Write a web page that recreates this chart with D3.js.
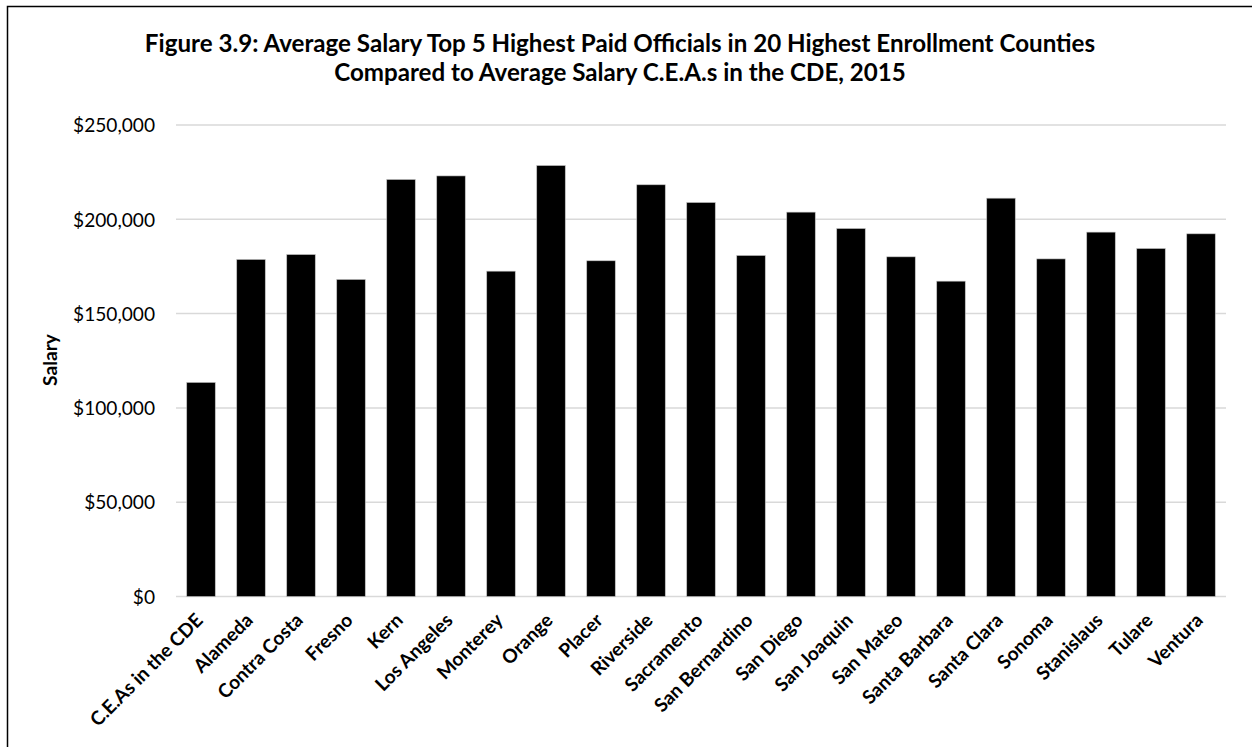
<!DOCTYPE html>
<html>
<head>
<meta charset="utf-8">
<script src="https://cdn.jsdelivr.net/npm/d3@7/dist/d3.min.js"></script>
<style>
  html, body { margin: 0; padding: 0; background: #fff; }
  svg { display: block; }
  text { font-family: "Lato", "Open Sans", "Liberation Sans", sans-serif; fill: #000; }
</style>
</head>
<body>
<svg id="chart" width="1252" height="747"></svg>
<script>
const categories = ["C.E.As in the CDE", "Alameda", "Contra Costa", "Fresno", "Kern", "Los Angeles",
  "Monterey", "Orange", "Placer", "Riverside", "Sacramento", "San Bernardino", "San Diego",
  "San Joaquin", "San Mateo", "Santa Barbara", "Santa Clara", "Sonoma", "Stanislaus", "Tulare", "Ventura"];
const salaries = [113500, 178700, 181300, 168100, 221100, 223000, 172500, 228500, 178000, 218300,
  208900, 180800, 203800, 195100, 180100, 167200, 211200, 179000, 193200, 184500, 192300];
const yTicks = [0, 50000, 100000, 150000, 200000, 250000];
const titleLines = ["Figure 3.9: Average Salary Top 5 Highest Paid Officials in 20 Highest Enrollment Counties",
  "Compared to Average Salary C.E.A.s in the CDE, 2015"];
const yAxisTitle = "Salary";

const svg = d3.select("#chart");
const W = 1252, H = 747;
const plot = { left: 176, right: 1226, top: 125, bottom: 596.5 };

// fit a selection's font size so that a reference node has the target length
function fit(sel, node, target, base) {
  sel.style("font-size", base + "px");
  const w = node.getComputedTextLength();
  sel.style("font-size", (base * target / w) + "px");
}

// outer frame (left and top edges visible)
svg.append("rect").attr("x", 7.5).attr("y", 6.5).attr("width", W + 10).attr("height", H + 10)
  .attr("fill", "none").attr("stroke", "#000").attr("stroke-width", 1.5);

const x = d3.scaleBand().domain(categories).range([plot.left, plot.right])
  .paddingInner(0.43).paddingOuter(0.215);
const y = d3.scaleLinear().domain([0, 250000]).range([plot.bottom, plot.top]);

// gridlines
svg.append("g").selectAll("line").data(yTicks).join("line")
  .attr("x1", plot.left).attr("x2", plot.right)
  .attr("y1", d => y(d)).attr("y2", d => y(d))
  .attr("stroke", "#d9d9d9").attr("stroke-width", 1.5);

// y axis labels
const fmt = d => "$" + d3.format(",")(d);
const yAxis = d3.axisLeft(y).tickValues(yTicks).tickFormat(fmt).tickSize(0).tickPadding(0);
const yg = svg.append("g").attr("transform", `translate(155,0)`).call(yAxis);
yg.select(".domain").remove();
const yTxt = yg.selectAll("text").style("font-family", "Lato, 'Open Sans', sans-serif")
  .attr("fill", "#000").attr("dy", "0.35em");
fit(yTxt, yTxt.filter(d => d === 250000).node(), 82, 15);

// bars
svg.append("g").selectAll("rect").data(salaries).join("rect")
  .attr("x", (d, i) => x(categories[i]))
  .attr("y", d => y(d))
  .attr("width", x.bandwidth())
  .attr("height", d => y(0) - y(d))
  .attr("fill", "#000")
  .attr("stroke", "#bfbfbf").attr("stroke-width", 0.6);

// x axis labels
const xAxis = d3.axisBottom(x).tickSize(0).tickPadding(0);
const xg = svg.append("g").attr("transform", `translate(0,${plot.bottom})`).call(xAxis);
xg.select(".domain").remove();
const xTxt = xg.selectAll("text")
  .style("font-family", "Lato, 'Open Sans', sans-serif")
  .style("font-weight", "bold").attr("fill", "#000")
  .attr("text-anchor", "end")
  .attr("dy", null).attr("y", null)
  .attr("transform", "translate(3,25) rotate(-45)");
fit(xTxt, xTxt.filter(d => d === categories[0]).node(), 150, 14);

// y axis title
const yt = svg.append("text").attr("transform", "translate(57,360) rotate(-90)")
  .attr("text-anchor", "middle").style("font-weight", "bold")
  .text(yAxisTitle);
fit(yt, yt.node(), 52, 14);

// title
const tl = svg.append("g");
const tt = tl.selectAll("text").data(titleLines).join("text")
  .attr("x", 620).attr("y", (d, i) => 52 + i * 29)
  .attr("text-anchor", "middle").style("font-weight", "bold")
  .text(d => d);
fit(tt, tt.node(), 951, 20);
</script>
</body>
</html>
